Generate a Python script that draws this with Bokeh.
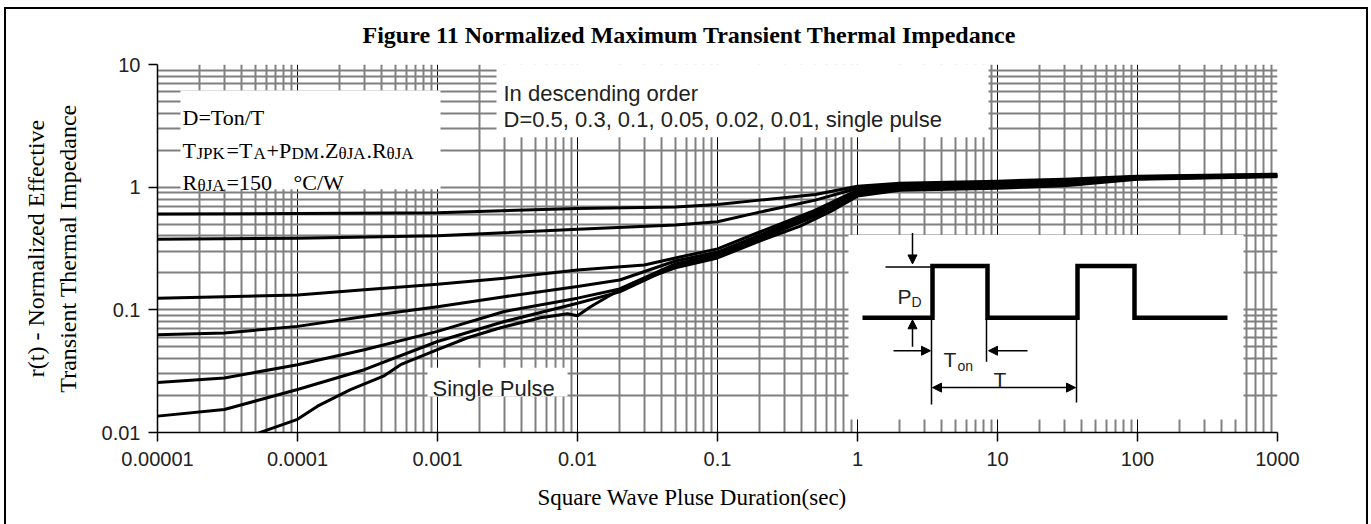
from bokeh.plotting import figure
from bokeh.models import Range1d, FixedTicker, Label, Arrow, NormalHead, Title
from bokeh.embed import file_html
from bokeh.resources import INLINE

# ---------------- data ----------------
x_d50 = [1e-5, 1e-4, 1e-3, 1e-2, 0.05, 0.1, 0.2, 0.5, 1, 2, 10, 30, 100, 1000]
y_d50 = [0.603, 0.609, 0.618, 0.671, 0.689, 0.721, 0.784, 0.872, 1.019, 1.078, 1.119, 1.162, 1.229, 1.276]

x_d30 = [1e-5, 1e-4, 1e-3, 3e-3, 1e-2, 0.05, 0.1, 0.2, 0.5, 1, 2, 10, 30, 100, 1000]
y_d30 = [0.376, 0.383, 0.402, 0.425, 0.453, 0.491, 0.522, 0.626, 0.784, 0.981, 1.048, 1.088, 1.140, 1.217, 1.264]

x_d10 = [1e-5, 3e-5, 1e-4, 3e-4, 1e-3, 3e-3, 1e-2, 0.03, 0.05, 0.1, 0.2, 0.5, 1, 2, 10, 30, 100, 1000]
y_d10 = [0.1245, 0.128, 0.132, 0.146, 0.162, 0.181, 0.211, 0.232, 0.265, 0.314, 0.431, 0.650, 0.945, 1.019, 1.058, 1.108, 1.206, 1.252]

x_d05 = [1e-5, 3e-5, 1e-4, 3e-4, 1e-3, 3e-3, 1e-2, 0.02, 0.05, 0.1, 0.2, 0.5, 1, 2, 10, 30, 100, 1000]
y_d05 = [0.0626, 0.0647, 0.0733, 0.0882, 0.106, 0.128, 0.155, 0.175, 0.250, 0.296, 0.407, 0.626, 0.919, 1.0, 1.038, 1.088, 1.195, 1.240]

x_d02 = [1e-5, 3e-5, 1e-4, 3e-4, 1e-3, 3e-3, 1e-2, 0.02, 0.05, 0.1, 0.2, 0.5, 1, 2, 10, 30, 100, 1000]
y_d02 = [0.0256, 0.0278, 0.0357, 0.0473, 0.0667, 0.0969, 0.1245, 0.148, 0.237, 0.285, 0.392, 0.603, 0.894, 0.981, 1.019, 1.068, 1.184, 1.229]

x_d01 = [1e-5, 3e-5, 1e-4, 3e-4, 1e-3, 3e-3, 1e-2, 0.02, 0.05, 0.1, 0.2, 0.5, 1, 2, 10, 30, 100, 1000]
y_d01 = [0.0136, 0.0154, 0.0224, 0.0325, 0.0552, 0.0803, 0.113, 0.140, 0.228, 0.275, 0.378, 0.581, 0.869, 0.963, 1.0, 1.048, 1.172, 1.229]

x_single = [5.0e-5, 1e-4, 1.39e-4, 2.39e-4, 4.11e-4, 5.45e-4, 1e-3, 1.64e-3, 2.82e-3, 5.44e-3, 8.48e-3,
            1e-2, 0.0124, 0.0164, 0.0251, 0.05, 0.1, 0.2, 0.39, 0.65, 1, 2, 10, 30, 100, 1000]
y_single = [0.0097, 0.0128, 0.0164, 0.0224, 0.0288, 0.0357, 0.0473, 0.0592, 0.0714, 0.0861, 0.0928,
            0.0894, 0.106, 0.128, 0.166, 0.220, 0.265, 0.364, 0.482, 0.638, 0.845, 0.945, 0.981, 1.028, 1.162, 1.217]

x_ticks = [1e-5, 1e-4, 1e-3, 1e-2, 1e-1, 1, 10, 100, 1000]
x_tick_labels = ["0.00001", "0.0001", "0.001", "0.01", "0.1", "1", "10", "100", "1000"]
y_ticks = [0.01, 0.1, 1, 10]
y_tick_labels = ["0.01", "0.1", "1", "10"]

title_text = "Figure 11 Normalized Maximum Transient Thermal Impedance"
xlabel_text = "Square Wave Pluse Duration(sec)"
ylabel_text = "r(t) - Normalized Effective\nTransient Thermal Impedance"

# ---------------- layout helpers (canvas pixel -> data) ----------------
FL, FT, FW, FH = 157, 64, 1120, 369
DX, DY = FW / 8.0, FH / 3.0


def X(px):
    return 10 ** (-5 + (px - FL) / DX)


def Y(py):
    return 10 ** (1 - (py - FT) / DY)


W, H = 1371, 524
p = figure(width=W, height=H, x_axis_type="log", y_axis_type="log",
           x_range=Range1d(1e-5, 1000), y_range=Range1d(0.01, 10),
           output_backend="svg", toolbar_location=None,
           min_border_left=FL, min_border_right=W - FL - FW,
           min_border_top=FT, min_border_bottom=H - FT - FH)
p.stylesheets = [":host::after { content: ''; position: absolute; left: 4px; top: 7px; "
                 "width: 1364px; height: 517px; box-sizing: border-box; border: 2px solid black; "
                 "border-bottom: none; pointer-events: none; z-index: 50; }"]
p.outline_line_color = None
p.background_fill_color = "white"
p.border_fill_color = "white"

p.title.text = title_text
p.title.text_font = "Liberation Serif"
p.title.text_font_style = "bold"
p.title.text_font_size = "24px"
p.title.text_color = "black"
p.title.align = "left"
p.title.offset = 205
p.title.standoff = 34

p.add_layout(Title(text=xlabel_text, text_font="Liberation Serif", text_font_style="normal",
                   text_font_size="23px", text_color="black", align="left", offset=380,
                   standoff=29), "below")

x_minor = [k * 10 ** e for e in range(-5, 3) for k in range(2, 10)]
y_minor = [k * 10 ** e for e in range(-2, 1) for k in range(2, 10)]
p.xaxis.ticker = FixedTicker(ticks=x_ticks, minor_ticks=x_minor)
p.yaxis.ticker = FixedTicker(ticks=y_ticks, minor_ticks=y_minor)
p.xaxis.major_label_overrides = dict(zip(x_ticks, x_tick_labels))
p.yaxis.major_label_overrides = dict(zip(y_ticks, y_tick_labels))

for ax in (p.xaxis, p.yaxis):
    ax.axis_line_width = 1.5
    ax.axis_line_color = "black"
    ax.major_tick_in = 0
    ax.major_tick_out = 9
    ax.major_tick_line_width = 1.5
    ax.minor_tick_in = 0
    ax.minor_tick_out = 0
    ax.major_label_text_font = "Liberation Sans"
    ax.major_label_text_font_size = "20px"
    ax.major_label_text_color = "#222222"
p.xaxis.major_label_standoff = 10
p.yaxis.major_label_standoff = 8

p.yaxis.axis_label = ylabel_text
p.yaxis.axis_label_text_font = "Liberation Serif"
p.yaxis.axis_label_text_font_style = "normal"
p.yaxis.axis_label_text_font_size = "24px"
p.yaxis.axis_label_text_color = "black"
p.yaxis.axis_label_standoff = 18

p.xgrid.grid_line_color = "black"
p.xgrid.grid_line_width = 1
p.xgrid.minor_grid_line_color = "#808080"
p.xgrid.minor_grid_line_width = 2
p.ygrid.grid_line_color = "#808080"
p.ygrid.grid_line_width = 2
p.ygrid.minor_grid_line_color = "#808080"
p.ygrid.minor_grid_line_width = 2

# white backgrounds of the text boxes (cover the grid)
boxes = [(180, 440, 90, 189), (496, 988, 62, 137), (427, 567, 368, 397), (848, 1243, 235, 420)]
p.quad(left=[X(b[0]) for b in boxes], right=[X(b[1]) for b in boxes],
       top=[Y(b[2]) for b in boxes], bottom=[Y(b[3]) for b in boxes],
       fill_color="white", line_color=None)

# curves
for xs, ys in [(x_d50, y_d50), (x_d30, y_d30), (x_d10, y_d10), (x_d05, y_d05),
               (x_d02, y_d02), (x_d01, y_d01), (x_single, y_single)]:
    p.line(xs, ys, line_width=3, line_color="black", line_join="round")


# ---------------- texts inside the plot ----------------
def lab(px, py, text, size, font="Liberation Serif", style="normal", align="left", color="black"):
    p.add_layout(Label(x=X(px), y=Y(py), text=text, text_font=font, text_font_size=f"{size}px",
                       text_font_style=style, text_align=align, text_baseline="alphabetic",
                       text_color=color))


# box 1 (serif with subscripts)
M, S = 22, 17
lab(182, 117, "D=Ton/T", M)
lab(182, 150, "T", M); lab(196, 153, "JPK", S)
lab(226, 150, "=T", M); lab(253, 153, "A", S)
lab(266, 150, "+P", M); lab(291, 153, "DM", S)
lab(319, 150, ".Z", M); lab(338, 153, "\u03b8JA", S)
lab(366, 150, ".R", M); lab(386, 153, "\u03b8JA", S)
lab(182, 182, "R", M); lab(197, 185, "\u03b8JA", S)
lab(226, 182, "=150", M)
lab(293, 182, "\u00b0C/W", M)

# box 2 and single pulse (sans)
lab(503, 93, "In descending order", 22, font="Liberation Sans", color="#222222")
lab(503, 119, "D=0.5, 0.3, 0.1, 0.05, 0.02, 0.01, single pulse", 22, font="Liberation Sans", color="#222222")
lab(432, 389, "Single Pulse", 22, font="Liberation Sans", color="#222222")

# ---------------- pulse diagram inset ----------------
pulse_px = [(862, 318), (932, 318), (932, 266), (987, 266), (987, 318), (1077, 318),
            (1077, 266), (1134, 266), (1134, 318), (1227, 318)]
p.line([X(a) for a, b in pulse_px], [Y(b) for a, b in pulse_px], line_width=4.5,
       line_color="black", line_join="miter")
thin = [((885, 267), (932, 267)), ((931, 318), (931, 405)), ((986, 318), (986, 362)),
        ((1076, 318), (1076, 403))]
p.multi_line([[X(a[0]), X(b[0])] for a, b in thin], [[Y(a[1]), Y(b[1])] for a, b in thin],
             line_width=1.5, line_color="black")
arrows = [((912, 233), (912, 264)), ((912, 347), (912, 320)), ((893, 351), (930, 351)),
          ((1027, 351), (988, 351))]
for a, b in arrows:
    p.add_layout(Arrow(x_start=X(a[0]), y_start=Y(a[1]), x_end=X(b[0]), y_end=Y(b[1]),
                       line_width=1.5, end=NormalHead(size=9, fill_color="black", line_color="black")))
p.add_layout(Arrow(x_start=X(932), y_start=Y(388), x_end=X(1075), y_end=Y(388), line_width=1.5,
                   start=NormalHead(size=9, fill_color="black", line_color="black"),
                   end=NormalHead(size=9, fill_color="black", line_color="black")))
lab(897, 297, "P", 21, font="Liberation Sans", color="#222222")
lab(911, 302, "D", 14, font="Liberation Sans", color="#222222")
lab(943, 360, "T", 21, font="Liberation Sans", color="#222222")
lab(957, 366, "on", 14, font="Liberation Sans", color="#222222")
lab(993, 380, "T", 21, font="Liberation Sans", color="#222222")

open("out.html", "w").write(file_html(p, INLINE))
